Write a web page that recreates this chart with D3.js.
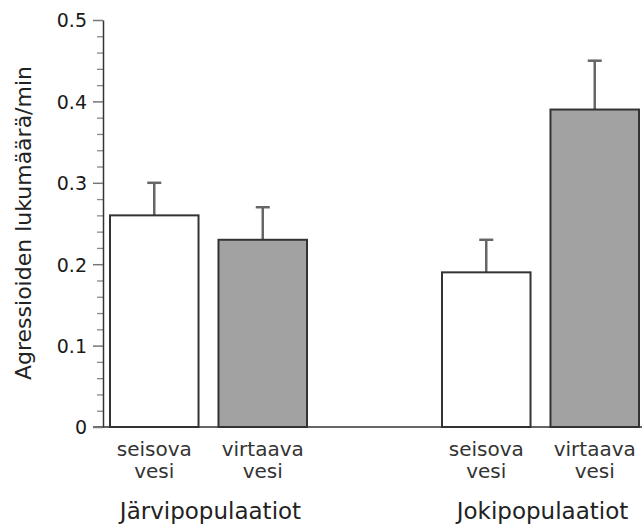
<!DOCTYPE html>
<html>
<head>
<meta charset="utf-8">
<script src="https://cdn.jsdelivr.net/npm/d3@7"></script>
<style>
  body { margin: 0; background: #fff; }
  svg { display: block; font-family: "DejaVu Sans", sans-serif; }
</style>
</head>
<body>
<svg id="chart" width="642" height="527"></svg>
<script>
// values
const groups = ["Järvipopulaatiot", "Jokipopulaatiot"];
const conditions = ["seisova vesi", "virtaava vesi"];
const meanJarvi = [0.26, 0.23];
const meanJoki = [0.19, 0.39];
const errJarvi = [0.04, 0.04];
const errJoki = [0.04, 0.06];
const yTicks = [0, 0.1, 0.2, 0.3, 0.4, 0.5];
const yTickLabels = ["0", "0.1", "0.2", "0.3", "0.4", "0.5"];
const yTitle = "Agressioiden lukumäärä/min";

const svg = d3.select('#chart');

let rows = [];
groups.forEach(function (g, gi) {
    let m = gi == 0 ? meanJarvi : meanJoki;
    let e = gi == 0 ? errJarvi : errJoki;
    conditions.forEach(function (c, ci) {
        rows.push({group: g, cond: c, value: m[ci], err: e[ci], ci: ci});
    });
});

const axisX = 103;
const y = d3.scaleLinear().domain([0, 0.5]).range([427, 20]);

const xGroup = d3.scaleBand().domain(groups).range([110, 639])
    .paddingInner(0.4066).paddingOuter(0);
const xCond = d3.scaleBand().domain(conditions).range([0, xGroup.bandwidth()])
    .paddingInner(0.184).paddingOuter(0);

// x baseline
svg.append('line')
    .attr('x1', axisX - 10).attr('x2', 642)
    .attr('y1', y(0)).attr('y2', y(0))
    .attr('stroke', '#333').attr('stroke-width', 1.5);

// minor ticks
let minor = d3.range(0, 26).map(i => i / 50).filter((v, i) => i % 5 != 0);
let minorAxis = svg.append('g').attr('transform', `translate(${axisX},0)`)
    .call(d3.axisLeft(y).tickValues(minor).tickSize(6).tickFormat(''));
minorAxis.select('.domain').remove();
minorAxis.selectAll('.tick line').attr('stroke', '#888').attr('stroke-width', 1.3);

// major ticks + labels
let majorAxis = svg.append('g').attr('transform', `translate(${axisX},0)`)
    .call(d3.axisLeft(y).tickValues(yTicks).tickSize(10).tickSizeOuter(0)
        .tickFormat((d, i) => yTickLabels[i]));
majorAxis.attr('font-family', null).attr('font-size', null);
majorAxis.select('.domain').attr('stroke', '#333').attr('stroke-width', 1.5);
majorAxis.selectAll('.tick line').attr('stroke', '#777').attr('stroke-width', 1.5);
majorAxis.selectAll('.tick text')
    .attr('x', -16).attr('dy', '0.36em')
    .attr('fill', '#1a1a1a')
    .style('font-size', '19px');

// y title
svg.append('text')
    .attr('transform', 'translate(31,223) rotate(-90)')
    .attr('text-anchor', 'middle')
    .attr('fill', '#222')
    .style('font-size', '22px')
    .text(yTitle);

// bars
let bar = svg.append('g').selectAll('g').data(rows).enter().append('g')
    .attr('transform', d => `translate(${xGroup(d.group) + xCond(d.cond)},0)`);

bar.append('line')
    .attr('x1', xCond.bandwidth() / 2).attr('x2', xCond.bandwidth() / 2)
    .attr('y1', d => y(d.value)).attr('y2', d => y(d.value + d.err))
    .attr('stroke', '#666').attr('stroke-width', 2.5);
bar.append('line')
    .attr('x1', xCond.bandwidth() / 2 - 7).attr('x2', xCond.bandwidth() / 2 + 7)
    .attr('y1', d => y(d.value + d.err)).attr('y2', d => y(d.value + d.err))
    .attr('stroke', '#666').attr('stroke-width', 2.5);

bar.append('rect')
    .attr('x', 0).attr('width', xCond.bandwidth())
    .attr('y', d => y(d.value)).attr('height', d => y(0) - y(d.value))
    .attr('fill', d => d.ci == 0 ? '#fff' : '#a2a2a2')
    .attr('stroke', '#333').attr('stroke-width', 2);

// category labels (two lines)
let lab = bar.append('text')
    .attr('text-anchor', 'middle')
    .attr('fill', '#333')
    .style('font-size', '20px');
lab.append('tspan').attr('x', xCond.bandwidth() / 2).attr('y', 456)
    .text(d => d.cond.split(' ')[0]);
lab.append('tspan').attr('x', xCond.bandwidth() / 2).attr('y', 478)
    .text(d => d.cond.split(' ')[1]);

// group labels
svg.append('g').selectAll('text').data(groups).enter().append('text')
    .attr('x', d => xGroup(d) + xGroup.bandwidth() / 2 + 2)
    .attr('y', 519)
    .attr('text-anchor', 'middle')
    .attr('fill', '#222')
    .style('font-size', '23px')
    .text(d => d);
</script>
</body>
</html>
